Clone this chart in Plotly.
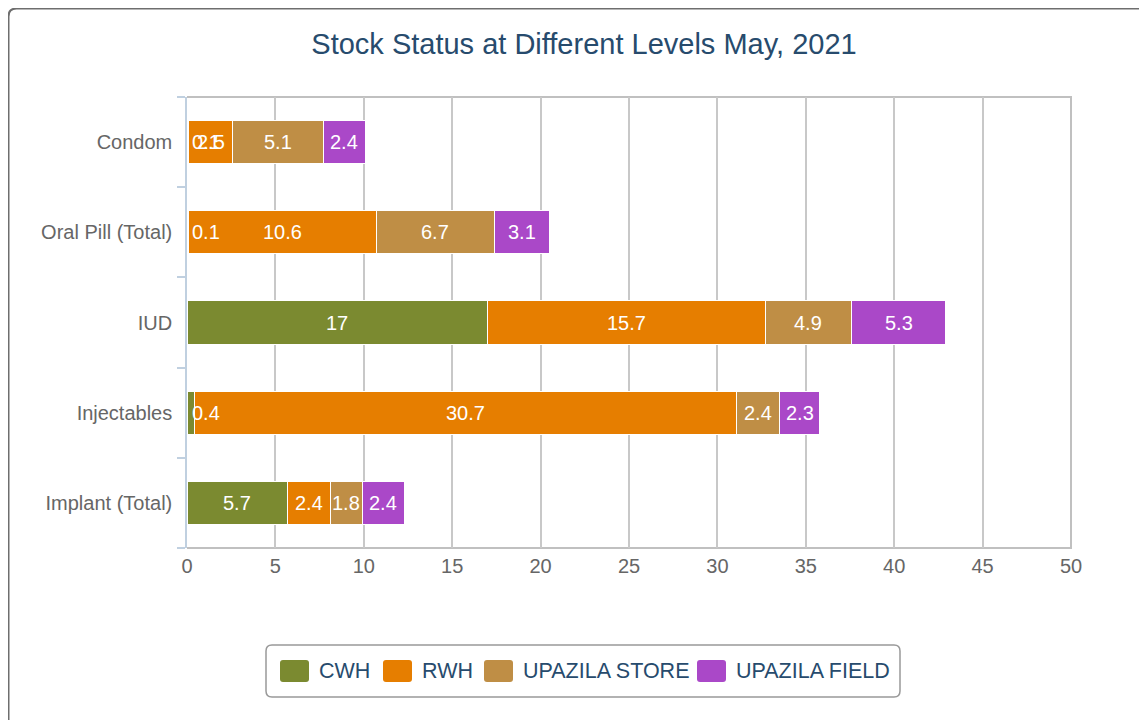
import plotly.graph_objects as go

# ---------------- data ----------------
categories = ["Condom", "Oral Pill (Total)", "IUD", "Injectables", "Implant (Total)"]
series_names = ["CWH", "RWH", "UPAZILA STORE", "UPAZILA FIELD"]
cwh = [0.1, 0.1, 17, 0.4, 5.7]
rwh = [2.5, 10.6, 15.7, 30.7, 2.4]
upazila_store = [5.1, 6.7, 4.9, 2.4, 1.8]
upazila_field = [2.4, 3.1, 5.3, 2.3, 2.4]
x_ticks = [0, 5, 10, 15, 20, 25, 30, 35, 40, 45, 50]
title_text = "Stock Status at Different Levels May, 2021"

series_values = [cwh, rwh, upazila_store, upazila_field]
colors = ["#7b8a30", "#e67e00", "#bf8e45", "#aa48c8"]

# ---------------- layout helpers ----------------
# page coordinates below; the figure sits 8px inside the page (body margin)
OFF = 8
W, H = 1147, 720
PL, PR, PT, PB = 187, 1071, 97, 548          # plot area in page pixels
L, T = PL - OFF, PT - OFF
R, B = W - (PR - OFF), H - (PB - OFF)
PW, PH = PR - PL, PB - PT
FONT = "Liberation Sans, Arial, Helvetica, sans-serif"


def px(x):
    return (x - PL) / PW


def py(y):
    return (PB - y) / PH


def rrect(x0, y0, x1, y1, r):
    pts = [
        f"M{px(x0 + r)},{py(y0)}",
        f"L{px(x1 - r)},{py(y0)}",
        f"Q{px(x1)},{py(y0)} {px(x1)},{py(y0 + r)}",
        f"L{px(x1)},{py(y1 - r)}",
        f"Q{px(x1)},{py(y1)} {px(x1 - r)},{py(y1)}",
        f"L{px(x0 + r)},{py(y1)}",
        f"Q{px(x0)},{py(y1)} {px(x0)},{py(y1 - r)}",
        f"L{px(x0)},{py(y0 + r)}",
        f"Q{px(x0)},{py(y0)} {px(x0 + r)},{py(y0)}",
        "Z",
    ]
    return " ".join(pts)


y_idx = list(range(len(categories)))

fig = go.Figure()
for name, vals, col in zip(series_names, series_values, colors):
    fig.add_trace(go.Bar(
        name=name, x=vals, y=y_idx, orientation="h",
        marker=dict(color=col, line=dict(color="white", width=1)),
        width=0.48, showlegend=False,
        customdata=categories,
        hovertemplate="%{customdata}<br>" + name + ": %{x}<extra></extra>",
    ))

annotations = []
# data labels
starts = [0.0] * len(categories)
for vals in series_values:
    for i, v in enumerate(vals):
        s = starts[i]
        if v < 1:
            annotations.append(dict(x=s, y=i, xref="x", yref="y", text=str(v),
                                    showarrow=False, xanchor="left", xshift=3,
                                    font=dict(color="white", size=20, family=FONT)))
        else:
            annotations.append(dict(x=s + v / 2, y=i, xref="x", yref="y", text=str(v),
                                    showarrow=False, xanchor="center",
                                    font=dict(color="white", size=20, family=FONT)))
        starts[i] = s + v

shapes = []
# outer rounded chart border
shapes.append(dict(type="path", xref="paper", yref="paper", path=rrect(8.5, 8.5, 1160, 740, 8),
                   line=dict(color="#6e6e6e", width=2), fillcolor="rgba(0,0,0,0)", layer="below"))
# plot area border (top, right, bottom)
shapes.append(dict(type="path", xref="paper", yref="paper",
                   path="M0,1 L1,1 L1,0 L0,0",
                   line=dict(color="#c0c0c0", width=2), layer="below"))
# legend box
shapes.append(dict(type="path", xref="paper", yref="paper", path=rrect(266, 645, 900, 697, 6),
                   line=dict(color="#999999", width=1.5), fillcolor="white", layer="below"))
# legend items
legend_x = [280, 383, 484, 697]
for name, col, lx in zip(series_names, colors, legend_x):
    shapes.append(dict(type="path", xref="paper", yref="paper", path=rrect(lx, 660, lx + 29, 682, 3),
                       line=dict(color=col, width=0), fillcolor=col, layer="above"))
    annotations.append(dict(x=px(lx + 37), y=py(671), xref="paper", yref="paper", text=name,
                            showarrow=False, xanchor="left", yanchor="middle",
                            font=dict(color="#274b6d", size=21.5, family=FONT)))

fig.update_layout(
    width=W, height=H,
    margin=dict(l=L, r=R, t=T, b=B),
    paper_bgcolor="white", plot_bgcolor="white",
    barmode="stack",
    title=dict(text=title_text, x=(584 - OFF) / W, xref="container", xanchor="center",
               y=1 - (44 - OFF) / H, yref="container", yanchor="middle",
               font=dict(size=29, color="#274b6d", family=FONT)),
    xaxis=dict(range=[0, 50], tickvals=x_ticks, showgrid=True, gridcolor="#c8c8c8", gridwidth=1.5,
               zeroline=False, showline=False, ticks="", ticklabelstandoff=4,
               tickfont=dict(size=20, color="#666666", family=FONT), fixedrange=True),
    yaxis=dict(range=[4.5, -0.5], tickvals=y_idx, ticktext=categories, showgrid=False,
               zeroline=False, showline=True, linecolor="#c0d0e0", linewidth=1.5,
               ticks="", ticklabelstandoff=9,
               minor=dict(tickmode="array", tickvals=[i - 0.5 for i in range(len(categories) + 1)],
                          ticks="outside", ticklen=8, tickcolor="#c0d0e0", tickwidth=1.5, showgrid=False),
               tickfont=dict(size=20, color="#666666", family=FONT), fixedrange=True),
    annotations=annotations,
    shapes=shapes,
    showlegend=False,
    font=dict(family=FONT),
)

fig.write_html("out.html")
